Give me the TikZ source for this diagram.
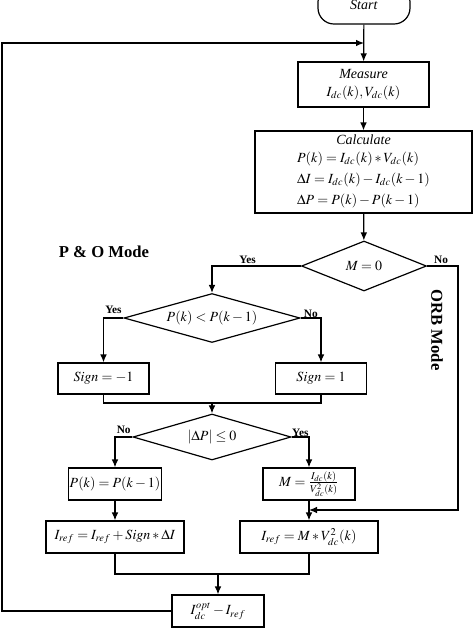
\documentclass[tikz,border=0pt]{standalone}
\usepackage{mathptmx}
\usepackage{fontspec}
\setmainfont{Liberation Serif}
\usetikzlibrary{shapes.geometric,arrows.meta}

\begin{document}
\begin{tikzpicture}[x=0.75pt, y=-0.75pt, line width=0.9pt,
    >={Latex[length=6pt,width=5pt]},
    box/.style={draw, rectangle, inner sep=1pt, font=\fontsize{10.5}{12}\selectfont},
    dec/.style={draw, diamond, inner sep=0pt, aspect=3.5, font=\fontsize{10.5}{12}\selectfont},
    lbl/.style={font=\fontsize{8.5}{10}\selectfont\bfseries, inner sep=1pt},
    mode/.style={font=\fontsize{12.5}{14}\selectfont\bfseries}]

    \useasboundingbox (0,0) rectangle (473,637);

    \node[box, rounded corners=12pt, minimum width=69pt, minimum height=28.5pt] (start) at (364,5) {\raisebox{-3pt}{\textit{Start}}};
    \node[box, minimum width=98.25pt, minimum height=33.75pt, align=center] (measure) at (363.5,84.5)
        {\textit{Measure}\\[2pt] $I_{dc}(k),V_{dc}(k)$};
    \node[box, minimum width=162.75pt, minimum height=61.5pt, align=center] (calc) at (363.5,172)
        {\textit{Calculate}\\[4pt]
         $\begin{array}{@{}l@{}}
          P(k)=I_{dc}(k)*V_{dc}(k)\\[4pt]
          \Delta I=I_{dc}(k)-I_{dc}(k-1)\\[4pt]
          \Delta P=P(k)-P(k-1)
          \end{array}$};

    \node[dec, aspect=2.5, minimum width=93.75pt, minimum height=37.5pt] (mzero) at (364,266) {$M=0$};
    \node[dec, aspect=3.6, minimum width=132pt, minimum height=36.75pt] (pcmp) at (212,318) {$P(k)<P(k-1)$};
    \node[box, minimum width=68.25pt, minimum height=23.25pt] (signneg) at (103.5,378.5) {$Sign=-1$};
    \node[box, minimum width=68.25pt, minimum height=23.25pt] (signpos) at (321,378.5) {$Sign=1$};
    \node[dec, aspect=3.4, minimum width=118.5pt, minimum height=34.5pt] (dpcmp) at (212,437) {$\left|\Delta P\right|\leq 0$};
    \node[box, minimum width=69pt, minimum height=24pt] (hold) at (115,484) {$P(k)=P(k-1)$};
    \node[box, inner sep=0pt, minimum width=69pt, minimum height=24pt] (mcalc) at (309,484) {$M=\frac{I_{dc}(k)}{V_{dc}^{2}(k)}$};
    \node[box, minimum width=103.5pt, minimum height=24pt] (irefpo) at (115,537) {$I_{ref}=I_{ref}+Sign*\Delta I$};
    \node[box, minimum width=103.5pt, minimum height=24pt] (ireforb) at (309,537) {$I_{ref}=M*V_{dc}^{2}(k)$};
    \node[box, minimum width=69pt, minimum height=24pt] (out) at (218,611) {$I_{dc}^{opt}-I_{ref}$};

    \node[mode] (pomode) at (104,252) {P \& O Mode};
    \node[mode, rotate=-90] (orbmode) at (437,330) {ORB Mode};

    \coordinate (loop) at (364,43);
    \coordinate (lcorner) at (2,43);
    \coordinate (orbin) at (309,510);
    \coordinate (orbcorner) at (458,266);
    \coordinate (j1) at (212,403);
    \coordinate (j2) at (218,574);

    % main line
    \draw[->] (start) -- (measure);
    \draw[->] (measure) -- (calc);
    \draw[->] (calc) -- (mzero);

    % M = 0 branches
    \draw[->] (mzero.west) -- node[lbl, above, pos=0.6] (yes1) {Yes} (mzero.west -| pcmp.north) -- (pcmp.north);
    \draw[->] (mzero.east) -- node[lbl, above, pos=0.45] (no1) {No} (orbcorner) |- (orbin);

    % P&O
    \draw[->] (pcmp.west) -- node[lbl, above=2pt] (yes2) {Yes} (pcmp.west -| signneg.north) -- (signneg.north);
    \draw[->] (pcmp.east) -- node[lbl, above=-1pt] (no2) {No} (pcmp.east -| signpos.north) -- (signpos.north);
    \draw (signneg.south) |- (j1) -| (signpos.south);
    \draw[->] (j1) -- (dpcmp.north);

    \draw[->] (dpcmp.west) -- node[lbl, above=1pt] (no3) {No} (dpcmp.west -| hold.north) -- (hold.north);
    \draw[->] (dpcmp.east) -- node[lbl, above=-1pt] (yes3) {Yes} (dpcmp.east -| mcalc.north) -- (mcalc.north);
    \draw[->] (hold) -- (irefpo);
    \draw[->] (mcalc) -- (ireforb);

    \draw (irefpo.south) |- (j2) -| (ireforb.south);
    \draw[->] (j2) -- (out.north);

    % feedback
    \draw[->] (out.west) -| (lcorner) -- (loop);
\end{tikzpicture}
\end{document}
